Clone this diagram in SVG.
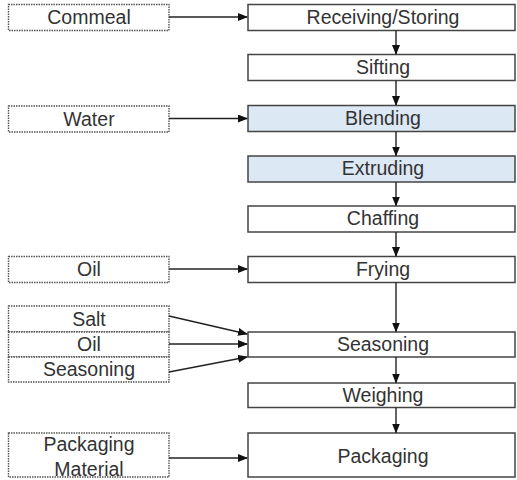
<svg xmlns="http://www.w3.org/2000/svg" width="517" height="480" viewBox="0 0 517 480">
<defs>
<marker id="ah" markerWidth="10" markerHeight="8" refX="9" refY="4" orient="auto" markerUnits="userSpaceOnUse">
<path d="M0,0 L10,4 L0,8 Z" fill="#111"/>
</marker>
<style>
.step{fill:#fff;stroke:#444;stroke-width:1.5}
.blue{fill:#dde8f5}
.inp{fill:#fff;stroke:#555;stroke-width:1.4;stroke-dasharray:1.5 1}
text{font-family:"Liberation Sans",Arial,sans-serif;font-size:19.5px;fill:#333;text-anchor:middle}
.c line{stroke:#222;stroke-width:1.4;marker-end:url(#ah)}
</style>
</defs>
<rect width="517" height="480" fill="#fff"/>
<g id="receiving"><rect class="step" x="248" y="4.5" width="267" height="26"/><text x="383" y="24">Receiving/Storing</text></g>
<g id="sifting"><rect class="step" x="248" y="54.5" width="267" height="26"/><text x="383" y="74">Sifting</text></g>
<g id="blending"><rect class="step blue" x="248" y="105.5" width="267" height="26"/><text x="383" y="125">Blending</text></g>
<g id="extruding"><rect class="step blue" x="248" y="156" width="267" height="26"/><text x="383" y="175">Extruding</text></g>
<g id="chaffing"><rect class="step" x="248" y="206" width="267" height="26"/><text x="383" y="225">Chaffing</text></g>
<g id="frying"><rect class="step" x="248" y="256.5" width="267" height="26"/><text x="383" y="276">Frying</text></g>
<g id="seasoning"><rect class="step" x="248" y="332" width="267" height="25"/><text x="383" y="351">Seasoning</text></g>
<g id="weighing"><rect class="step" x="248" y="383" width="267" height="24.5"/><text x="383" y="402">Weighing</text></g>
<g id="packaging"><rect class="step" x="248" y="433" width="267" height="44"/><text x="383" y="463">Packaging</text></g>

<g id="in-commeal"><rect class="inp" x="8.5" y="4.5" width="160.5" height="26"/><text x="89" y="24">Commeal</text></g>
<g id="in-water"><rect class="inp" x="8.5" y="106" width="160.5" height="26"/><text x="89" y="126">Water</text></g>
<g id="in-oil1"><rect class="inp" x="8.5" y="256.5" width="160.5" height="26"/><text x="89" y="276">Oil</text></g>
<g id="in-salt"><rect class="inp" x="8.5" y="306" width="160.5" height="26"/><text x="89" y="326">Salt</text></g>
<g id="in-oil2"><rect class="inp" x="8.5" y="332" width="160.5" height="25"/><text x="89" y="351">Oil</text></g>
<g id="in-seasoning"><rect class="inp" x="8.5" y="357" width="160.5" height="25"/><text x="89" y="376">Seasoning</text></g>
<g id="in-packaging"><rect class="inp" x="8.5" y="433" width="160.5" height="44"/><text x="89" y="451">Packaging</text><text x="89" y="476">Material</text></g>

<g id="connectors" class="c">
<line x1="169" y1="17" x2="247" y2="17"/>
<line x1="169" y1="118.5" x2="247" y2="118.5"/>
<line x1="169" y1="269" x2="247" y2="269"/>
<line x1="169" y1="316" x2="247" y2="334"/>
<line x1="169" y1="344" x2="247" y2="344"/>
<line x1="169" y1="372" x2="247" y2="357"/>
<line x1="169" y1="458" x2="247" y2="458"/>
<line x1="396" y1="30.5" x2="396" y2="54"/>
<line x1="396" y1="80.5" x2="396" y2="105"/>
<line x1="396" y1="131.5" x2="396" y2="155.5"/>
<line x1="396" y1="182" x2="396" y2="205.5"/>
<line x1="396" y1="232" x2="396" y2="256"/>
<line x1="396" y1="282.5" x2="396" y2="331.5"/>
<line x1="396" y1="357" x2="396" y2="382.5"/>
<line x1="396" y1="407.5" x2="396" y2="432.5"/>
</g>
</svg>
